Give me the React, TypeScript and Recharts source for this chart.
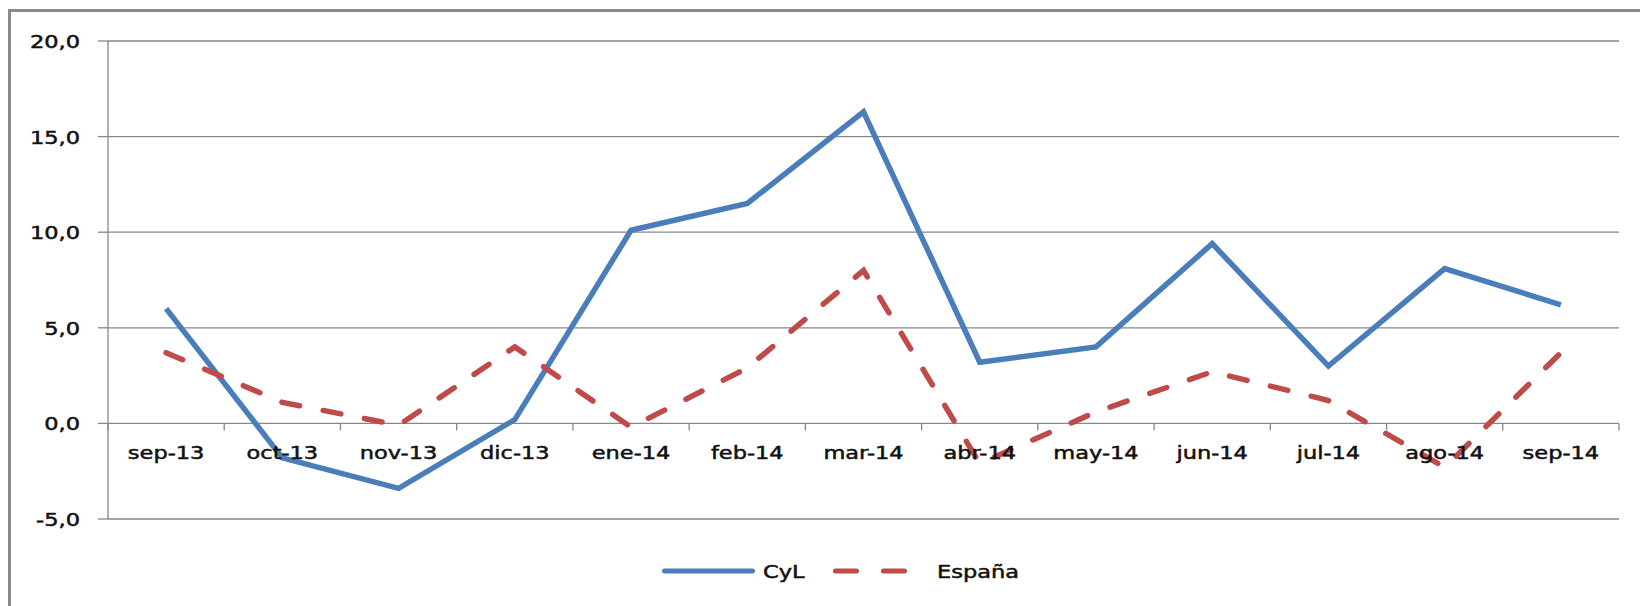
import React from 'react';
import { LineChart, Line, XAxis, YAxis, CartesianGrid, Legend } from 'recharts';

const MONTHS = ['sep-13', 'oct-13', 'nov-13', 'dic-13', 'ene-14', 'feb-14', 'mar-14', 'abr-14', 'may-14', 'jun-14', 'jul-14', 'ago-14', 'sep-14'];
const CYL = [6.0, -1.8, -3.4, 0.2, 10.1, 11.5, 16.3, 3.2, 4.0, 9.4, 3.0, 8.1, 6.2];
const ESPANA = [3.7, 1.1, -0.1, 4.0, -0.2, 2.9, 8.0, -2.1, 0.6, 2.7, 1.2, -2.3, 3.7];
const Y_TICKS = [-5, 0, 5, 10, 15, 20];
const SERIES_NAMES = ['CyL', 'España'];

const data = MONTHS.map((m, i) => ({ month: m, cyl: CYL[i], esp: ESPANA[i] }));

const W = 1640;
const H = 606;
const X_AXIS_H = 2;
const MARGIN = { top: 41, right: 21, left: 0, bottom: 87 - X_AXIS_H };
const Y_AXIS_W = 108;
const PLOT_W = W - MARGIN.left - MARGIN.right - Y_AXIS_W;
const PLOT_H = H - MARGIN.top - MARGIN.bottom - X_AXIS_H;
const Y_MIN = Y_TICKS[0];
const Y_MAX = Y_TICKS[Y_TICKS.length - 1];
const ZERO_Y = MARGIN.top + ((Y_MAX - 0) / (Y_MAX - Y_MIN)) * PLOT_H;

const GRID = '#878787';
const BLUE = '#4a7ebb';
const RED = '#be4b48';
const FONT = 'DejaVu Sans, Verdana, sans-serif';
const STRETCH = 1.25;

const fmt = (v: number) => v.toFixed(1).replace('.', ',');

const XTick = (props: any) => {
  const { x, payload, index } = props;
  const band = PLOT_W / MONTHS.length;
  return (
    <g>
      <line x1={x - band / 2} x2={x - band / 2} y1={ZERO_Y} y2={ZERO_Y + 7} stroke={GRID} strokeWidth={1.3} />
      {index === MONTHS.length - 1 && (
        <line x1={x + band / 2} x2={x + band / 2} y1={ZERO_Y} y2={ZERO_Y + 7} stroke={GRID} strokeWidth={1.3} />
      )}
      <text
        transform={`translate(${x},${ZERO_Y + 36}) scale(${STRETCH},1)`}
        textAnchor="middle"
        fontFamily={FONT}
        fontSize={18}
        fill="#111"
        stroke="#111"
        strokeWidth={0.5}
      >
        {payload.value}
      </text>
    </g>
  );
};

const YTick = (props: any) => {
  const { x, y, payload } = props;
  return (
    <text
      transform={`translate(${x},${y + 7}) scale(${STRETCH},1)`}
      textAnchor="end"
      fontFamily={FONT}
      fontSize={18}
      fill="#111"
      stroke="#111"
      strokeWidth={0.5}
    >
      {fmt(payload.value)}
    </text>
  );
};

const LegendContent = (props: any) => {
  const items = props.payload || [];
  return (
    <svg width={W} height={40} style={{ display: 'block' }}>
      {items.map((it: any, i: number) => {
        const x0 = i === 0 ? 662 : 833;
        const isDash = i === 1;
        const len = isDash ? 74 : 93;
        const tx = i === 0 ? 763 : 937;
        return (
          <g key={i}>
            <line
              x1={x0 + 2.5}
              x2={x0 + len - 2.5}
              y1={17}
              y2={17}
              stroke={it.color}
              strokeWidth={5}
              strokeLinecap="round"
              strokeDasharray={isDash ? '21 27' : undefined}
            />
            <text
              transform={`translate(${tx},${24}) scale(${STRETCH},1)`}
              fontFamily={FONT}
              fontSize={18}
              fill="#111"
              stroke="#111"
              strokeWidth={0.5}
            >
              {it.value}
            </text>
          </g>
        );
      })}
    </svg>
  );
};

export default function App() {
  return (
    <div style={{ position: 'absolute', left: 0, top: 0, width: W, height: H, overflow: 'hidden', background: '#fff' }}>
      <div
        style={{
          position: 'absolute',
          left: 8,
          top: 9,
          width: 1700,
          height: 700,
          border: '3px solid #8a8a8a',
          boxSizing: 'border-box',
        }}
      />
      <div style={{ position: 'absolute', left: 0, top: 0 }}>
        <LineChart width={W} height={H} data={data} margin={MARGIN}>
          <CartesianGrid vertical={false} stroke={GRID} strokeWidth={1.3} />
          <XAxis
            dataKey="month"
            scale="band"
            height={X_AXIS_H}
            axisLine={false}
            tickLine={false}
            interval={0}
            tick={XTick}
          />
          <YAxis
            width={Y_AXIS_W}
            domain={[Y_MIN, Y_MAX]}
            ticks={Y_TICKS}
            interval={0}
            axisLine={{ stroke: GRID, strokeWidth: 1.3 }}
            tickLine={{ stroke: GRID, strokeWidth: 1.3 }}
            tickSize={10}
            tickMargin={18}
            tick={YTick}
          />
          <Legend
            verticalAlign="middle"
            align="center"
            layout="horizontal"
            wrapperStyle={{ top: 554, left: 0, width: W }}
            content={LegendContent}
          />
          <Line
            type="linear"
            dataKey="cyl"
            name={SERIES_NAMES[0]}
            stroke={BLUE}
            strokeWidth={5.5}
            dot={false}
            isAnimationActive={false}
          />
          <Line
            type="linear"
            dataKey="esp"
            name={SERIES_NAMES[1]}
            stroke={RED}
            strokeWidth={5.5}
            strokeDasharray="18 24"
            strokeLinecap="round"
            dot={false}
            isAnimationActive={false}
          />
        </LineChart>
      </div>
    </div>
  );
}
